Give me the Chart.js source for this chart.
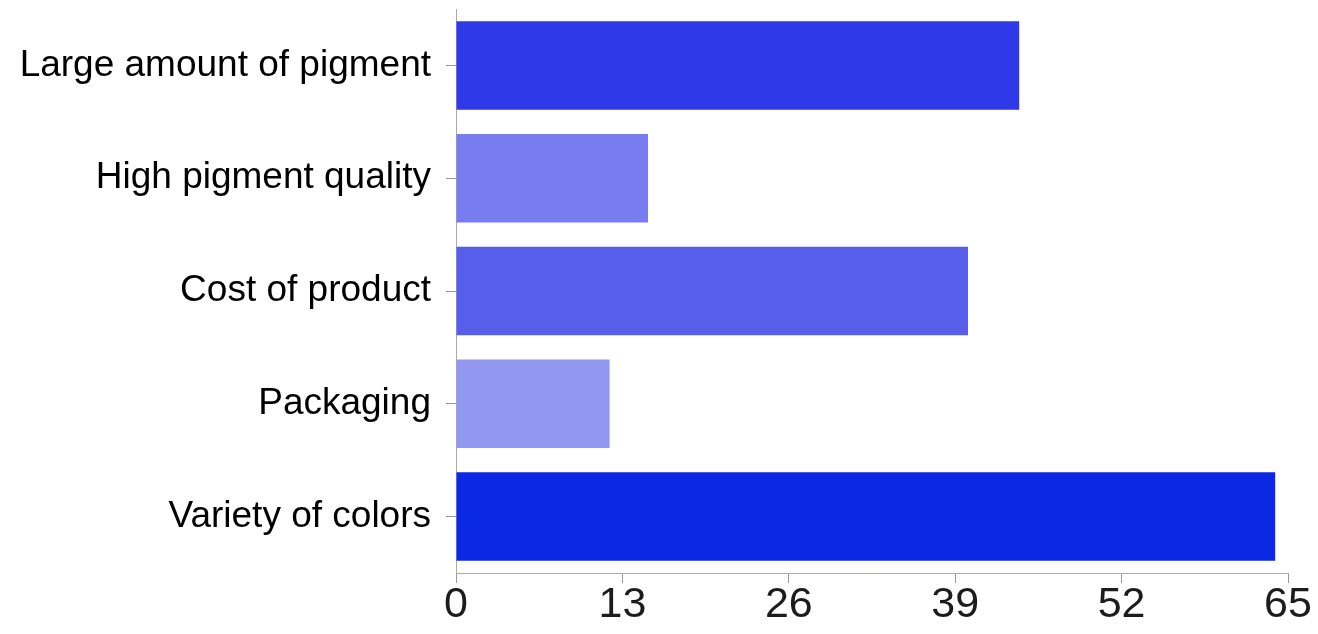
<!DOCTYPE html>
<html>
<head>
<meta charset="utf-8">
<title>Reasons for choosing</title>
<script src="https://cdn.jsdelivr.net/npm/chart.js@4/dist/chart.umd.min.js"></script>
<style>
  html, body { margin: 0; padding: 0; background: #fff; }
  #wrap { width: 1318px; height: 634px; }
</style>
</head>
<body>
<div id="wrap"><canvas id="reasonsChart" width="1318" height="634"></canvas></div>
<script>
const categories = [
  "Large amount of pigment",
  "High pigment quality",
  "Cost of product",
  "Packaging",
  "Variety of colors"
];
const responses = [44, 15, 40, 12, 64];
const barColors = ["#3039e8", "#777cef", "#575ee9", "#9297f1", "#0b29e4"];
const xMax = 65;
const xStep = 13;

const ctx = document.getElementById("reasonsChart");

// fixed axis sizes, and no extra room for the end labels
function fitX(scale) {
  scale.height = 61;
  scale.paddingLeft = 0;
  scale.paddingRight = 0;
}

function fitY(scale) {
  scale.width = 456;
  scale.paddingTop = 0;
  scale.paddingBottom = 0;
}

new Chart(ctx, {
  type: "bar",
  data: {
    labels: categories,
    datasets: [
      {
        label: "Responses",
        data: responses,
        backgroundColor: barColors,
        borderWidth: 0,
        categoryPercentage: 0.785,
        barPercentage: 1
      }
    ]
  },
  options: {
    indexAxis: "y",
    responsive: false,
    animation: false,
    layout: { autoPadding: false, padding: { top: 9, right: 30, left: 0, bottom: 0 } },
    plugins: {
      legend: { display: false },
      tooltip: { enabled: false }
    },
    scales: {
      x: {
        min: 0,
        max: xMax,
        afterFit: fitX,
        border: { display: true, color: "#aaa", width: 1 },
        grid: {
          drawOnChartArea: false,
          drawTicks: true,
          tickLength: 10,
          color: "#999"
        },
        ticks: {
          stepSize: xStep,
          padding: 1,
          color: "#1c1c1c",
          maxRotation: 0,
          font: { family: "'Liberation Sans', Arial, sans-serif", size: 43, lineHeight: 1 }
        }
      },
      y: {
        afterFit: fitY,
        border: { display: true, color: "#aaa", width: 1 },
        grid: {
          offset: false,
          drawOnChartArea: false,
          drawTicks: true,
          tickLength: 10,
          color: "#999"
        },
        ticks: {
          padding: 15,
          color: "#000",
          font: { family: "'Liberation Sans', Arial, sans-serif", size: 37 }
        }
      }
    }
  }
});
</script>
</body>
</html>
